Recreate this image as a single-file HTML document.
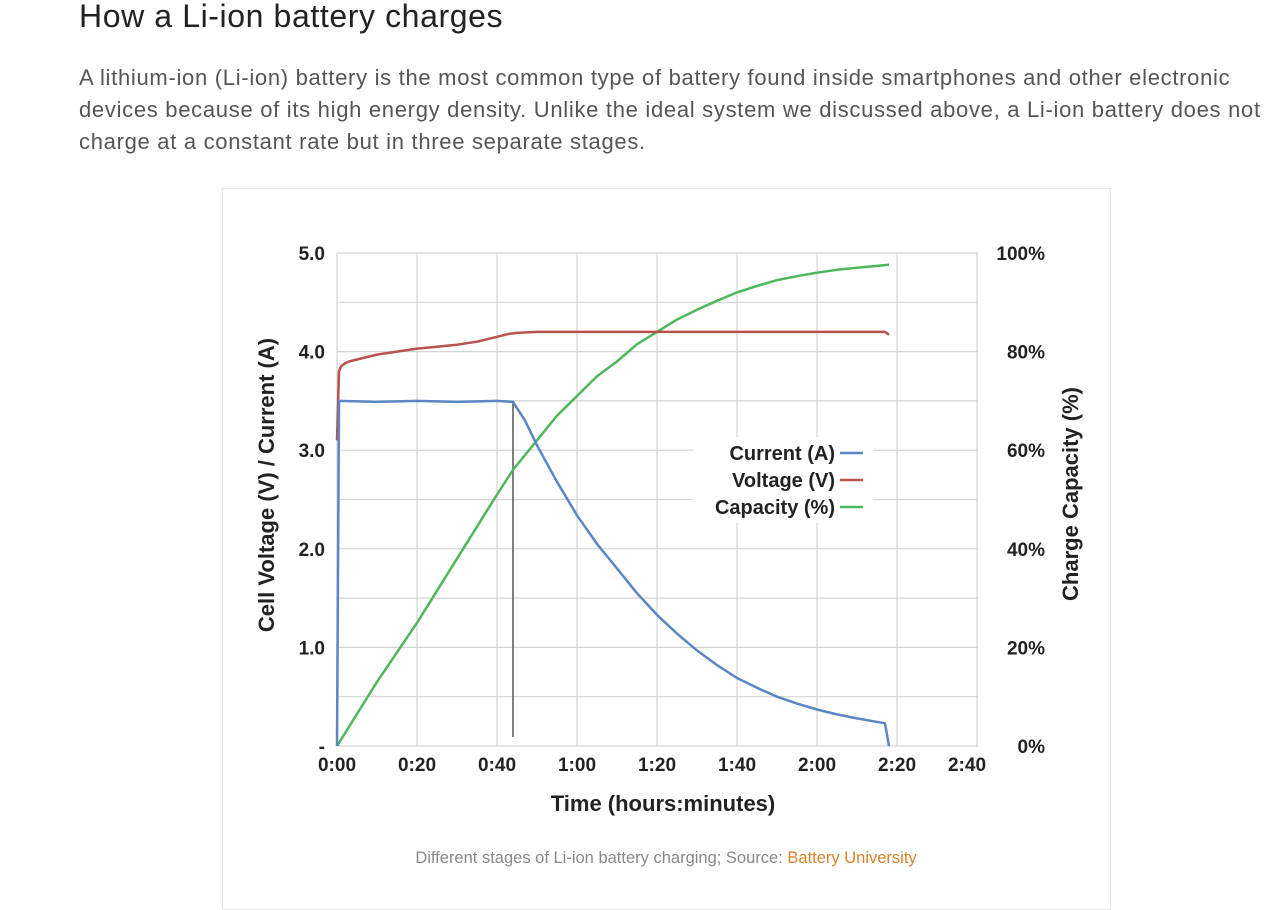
<!DOCTYPE html>
<html><head><meta charset="utf-8">
<style>
body{margin:0;width:1280px;height:883px;overflow:hidden;background:#fff;font-family:"Liberation Sans",sans-serif;position:relative}
h1{position:absolute;left:79px;top:-2px;margin:0;font-weight:normal;font-size:32px;letter-spacing:0.6px;color:#222}
p.intro{position:absolute;left:79px;top:62px;width:1200px;margin:0;font-size:22px;letter-spacing:0.7px;line-height:32px;color:#555;white-space:nowrap}
.box{position:absolute;left:222px;top:188px;width:887px;height:720px;border:1px solid #e6e6e6}
svg{position:absolute;left:0;top:0}
.cap{position:absolute;left:222px;width:888px;top:849px;text-align:center;font-size:16.5px;color:#888}
.cap a{color:#d9822b;text-decoration:none}
</style></head><body>
<h1>How a Li-ion battery charges</h1>
<p class="intro">A lithium-ion (Li-ion) battery is the most common type of battery found inside smartphones and other electronic<br>devices because of its high energy density. Unlike the ideal system we discussed above, a Li-ion battery does not<br>charge at a constant rate but in three separate stages.</p>
<div class="box"></div>
<svg id="chart" width="1280" height="883"></svg>
<div class="cap">Different stages of Li-ion battery charging; Source: <a href="#">Battery University</a></div>
<script>
const currentT=[0,0.5,10,20,30,40,44,47,50,55,60,65,70,75,80,85,90,95,100,105,110,115,120,125,130,137,138];
const currentV=[0,3.5,3.49,3.5,3.49,3.5,3.49,3.3,3.05,2.68,2.34,2.05,1.8,1.55,1.33,1.14,0.97,0.82,0.69,0.59,0.5,0.43,0.37,0.32,0.28,0.23,0];
const voltT=[0,0.5,1,2,3,5,7,10,15,20,25,30,35,40,43,45,50,60,80,100,120,137,138];
const voltV=[3.1,3.8,3.85,3.88,3.9,3.92,3.94,3.97,4.0,4.03,4.05,4.07,4.1,4.15,4.18,4.19,4.2,4.2,4.2,4.2,4.2,4.2,4.17];
const capT=[0,10,20,30,40,44,50,55,60,65,70,75,80,85,90,95,100,105,110,115,120,125,130,134,138];
const capV=[0,13,25,38,51,56,62,67,71,75,78,81.5,84,86.5,88.5,90.3,92,93.3,94.5,95.3,96,96.6,97,97.3,97.6];
const leftTicks=["5.0","4.0","3.0","2.0","1.0","-"];
const leftTickVals=[5,4,3,2,1,0];
const rightTicks=["100%","80%","60%","40%","20%","0%"];
const rightTickVals=[100,80,60,40,20,0];
const xTicks=["0:00","0:20","0:40","1:00","1:20","1:40","2:00","2:20","2:40"];
const xTickVals=[0,20,40,60,80,100,120,140,160];
const cvStepT=44;

const X=t=>337+t*4;
const YL=v=>746-v*98.6;
const YR=p=>746-p*4.93;
const NS="http://www.w3.org/2000/svg";
const svg=document.getElementById('chart');
function mk(tag,attrs,txt){const e=document.createElementNS(NS,tag);for(const k in attrs)e.setAttribute(k,attrs[k]);if(txt!==undefined)e.textContent=txt;svg.appendChild(e);return e;}
for(let v=0;v<=5.0001;v+=0.5){const l=mk('line',{x1:337,x2:978,y1:YL(v),y2:YL(v),stroke:'#d4d4d4','stroke-width':1.2});

}
for(let t=0;t<=160;t+=20){const l=mk('line',{x1:X(t),x2:X(t),y1:YL(5),y2:YL(0),stroke:'#d4d4d4','stroke-width':1.2});

}
const lb=mk('rect',{x:693,y:437,width:180,height:86,fill:'#fff'});


leftTicks.forEach((s,i)=>{const e=mk('text',{x:325,y:YL(leftTickVals[i])+7,'text-anchor':'end','font-size':19,'font-weight':'bold',fill:'#222'},s);

});
rightTicks.forEach((s,i)=>{const e=mk('text',{x:1045,y:YR(rightTickVals[i])+7,'text-anchor':'end','font-size':19,'font-weight':'bold',fill:'#222'},s);

});
xTicks.forEach((s,i)=>{const e=mk('text',{x:X(xTickVals[i])-(i==8?10:0),y:771,'text-anchor':'middle','font-size':19,'font-weight':'bold',fill:'#222'},s);

});
let e=mk('text',{x:663,y:811,'text-anchor':'middle','font-size':22,'font-weight':'bold',fill:'#222'},'Time (hours:minutes)');


e=mk('text',{x:0,y:0,transform:'translate(274,485) rotate(-90)','text-anchor':'middle','font-size':22,'font-weight':'bold',fill:'#222'},'Cell Voltage (V) / Current (A)');


e=mk('text',{x:0,y:0,transform:'translate(1078,494) rotate(-90)','text-anchor':'middle','font-size':22,'font-weight':'bold',fill:'#222'},'Charge Capacity (%)');


e=mk('line',{x1:X(cvStepT),x2:X(cvStepT),y1:YL(3.5),y2:737,stroke:'#555','stroke-width':1.5});


function path(T,V,Y,col,name){const d=T.map((t,i)=>(i?'L':'M')+X(t).toFixed(1)+','+Y(V[i]).toFixed(1)).join(' ');
const p=mk('path',{d:d,fill:'none',stroke:col,'stroke-width':2.5,'stroke-linejoin':'round'});

}
path(capT,capV,YR,'#4cb85a','capacity-line');
path(voltT,voltV,YL,'#b9514c','voltage-line');
path(currentT,currentV,YL,'#5b86c6','current-line');
const leg=[['Current (A)','#5b86c6'],['Voltage (V)','#b9514c'],['Capacity (%)','#4cb85a']];
leg.forEach((l,i)=>{const y=460+i*27;
let t=mk('text',{x:835,y:y,'text-anchor':'end','font-size':20,'font-weight':'bold',fill:'#222'},l[0]);


let s=mk('line',{x1:840,x2:863,y1:y-7,y2:y-7,stroke:l[1],'stroke-width':2.5});

});
</script>
</body></html>
